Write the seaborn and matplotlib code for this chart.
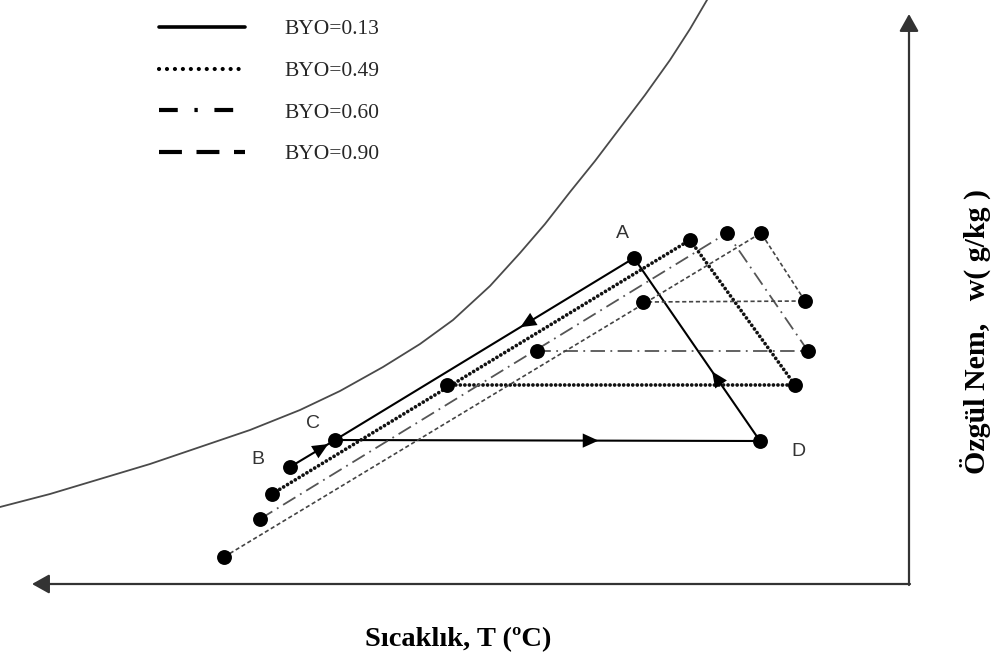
import numpy as np
import pandas as pd
import seaborn as sns
import matplotlib
matplotlib.use("Agg")
import matplotlib.pyplot as plt
from matplotlib.lines import Line2D

sns.set_theme(style="white")
plt.rcParams['font.family'] = ['Liberation Serif', 'DejaVu Serif']

# ---------------- data (schematic units, y grows downward) ----------------
labels = ["BYO=0.13", "BYO=0.49", "BYO=0.60", "BYO=0.90"]

# saturation curve
sat_T = [0, 50, 100, 150, 200, 250, 300, 340, 383, 420, 453, 490, 520, 545, 570,
         595, 620, 645, 670, 690, 707, 712]
sat_w = [507, 494, 479, 464, 447, 430, 410, 391, 367, 344, 320, 286, 253, 224, 192,
         161, 128, 95, 60, 29, 0, -8]

# cycle BYO=0.13 : B -> C -> D -> A -> C
c13_T = [290, 335, 760, 634, 335]
c13_w = [467, 440, 441, 258, 440]
# cycle BYO=0.49
c49_T = [272, 690, 795, 447]
c49_w = [494, 240, 385, 385]
# cycle BYO=0.60
c60_T = [260, 727, 808, 537]
c60_w = [519, 233, 351, 351]
# cycle BYO=0.90
c90_T = [224, 761, 805, 643]
c90_w = [557, 233, 301, 302]

point_names = ["B", "C", "D", "A"]
point_label_T = [258, 313, 798, 622]
point_label_w = [460, 424, 451, 233]

# direction arrows on BYO=0.13 cycle: (segment start idx, fraction)
arrow_seg = [0, 1, 2, 3]
arrow_frac = [0.85, 0.62, 0.38, 0.38]

x_title = "Sıcaklık, T (ºC)"
y_title = "Özgül Nem,   w( g/kg )"

# ---------------- figure ----------------
fig = plt.figure(figsize=(9.98, 6.65), dpi=100)
ax = fig.add_axes([0, 0, 1, 1])
ax.set_xlim(0, 998)
ax.set_ylim(665, 0)
ax.axis("off")

def path(T, w, **kw):
    df = pd.DataFrame({"T": T, "w": w})
    sns.lineplot(data=df, x="T", y="w", sort=False, estimator=None, ax=ax, legend=False, **kw)
    return ax.lines[-1]

# saturation curve
ln = path(sat_T, sat_w, color="#4a4a4a", lw=1.3)
ln.set_solid_joinstyle("round")

# cycles
path(c13_T, c13_w, color="black", lw=1.5)
ln = path(c49_T, c49_w, color="#111111", lw=2.7)
ln.set_dashes((0.01, 1.2))
ln.set_dash_capstyle("round")
ln = path(c60_T, c60_w, color="#555555", lw=1.3)
ln.set_dashes((8, 3, 1, 3))
ln = path(c90_T, c90_w, color="#444444", lw=1.2)
ln.set_dashes((2.5, 1.6))

# dots
dots = pd.DataFrame({
    "T": c13_T[:4] + c49_T + c60_T + c90_T,
    "w": c13_w[:4] + c49_w + c60_w + c90_w,
})
sns.scatterplot(data=dots, x="T", y="w", color="black", s=115, edgecolor="black", linewidth=0, ax=ax, zorder=5)

# direction arrows
for i, f in zip(arrow_seg, arrow_frac):
    p0 = np.array([c13_T[i], c13_w[i]], float)
    p1 = np.array([c13_T[i + 1], c13_w[i + 1]], float)
    d = (p1 - p0) / np.linalg.norm(p1 - p0)
    tip = p0 + f * (p1 - p0)
    ax.annotate("", xy=tip, xytext=tip - d * 2,
                arrowprops=dict(arrowstyle="-|>,head_length=0.42,head_width=0.19", color="black", lw=0,
                                mutation_scale=27, shrinkA=0, shrinkB=0), zorder=6)

# point labels
for n, t, w in zip(point_names, point_label_T, point_label_w):
    ax.text(t, w, n, ha="center", va="center", fontsize=14, color="#333333",
            family=["Liberation Sans", "DejaVu Sans"])

# axes arrows (origin at bottom-right)
ax.annotate("", xy=(909, 14), xytext=(909, 585),
            arrowprops=dict(arrowstyle="-|>,head_length=0.5,head_width=0.28", color="#333333", lw=1.6,
                            mutation_scale=21, shrinkA=0, shrinkB=0))
ax.annotate("", xy=(32, 584), xytext=(910, 584),
            arrowprops=dict(arrowstyle="-|>,head_length=0.5,head_width=0.28", color="#333333", lw=1.6,
                            mutation_scale=21, shrinkA=0, shrinkB=0))

# axis titles
ax.text(458, 640, x_title, ha="center", va="center", fontsize=20.5, fontweight="bold", color="black")
ax.text(975, 331, y_title, ha="center", va="center", rotation=90, fontsize=21.5,
        fontweight="bold", color="black")

# legend
handles = [
    Line2D([], [], color="black", lw=2.6),
    Line2D([], [], color="black", lw=3.0, dashes=(0.01, 1.9), dash_capstyle="round"),
    Line2D([], [], color="black", lw=3.0, dashes=(4.5, 4, 0.8, 4)),
    Line2D([], [], color="black", lw=3.0, dashes=(5.5, 3.5)),
]
leg = ax.legend(handles, labels, loc="upper left", bbox_to_anchor=(140 / 998, 1 - 0 / 665),
                frameon=False, fontsize=15.5, handlelength=4.0, handletextpad=1.8,
                labelspacing=1.0)

fig.savefig("out.png", dpi=100)
